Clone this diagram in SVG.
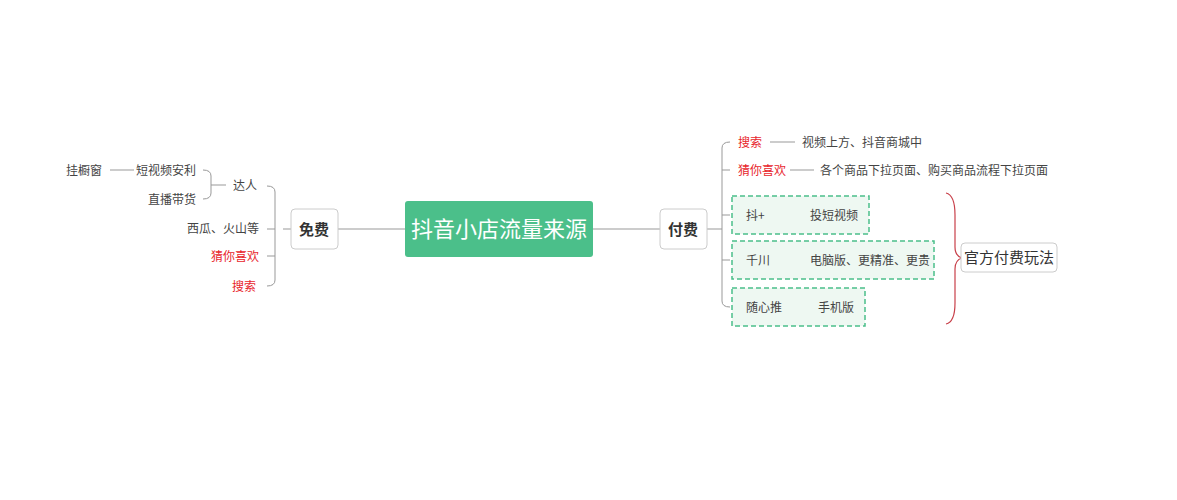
<svg xmlns="http://www.w3.org/2000/svg" width="1177" height="500" viewBox="0 0 1177 500">
<style>
text{font-family:"Noto Sans CJK SC","Liberation Sans",sans-serif;font-size:12px;fill:#444}
.r{fill:#e8262c}
.b{font-size:15px;font-weight:bold;fill:#333}
.ln{fill:none;stroke:#999;stroke-width:1}
.box{fill:#fff;stroke:#ccc;stroke-width:1}
.dash{fill:#eef8f2;stroke:#4bbf8a;stroke-width:1.5;stroke-dasharray:5 3}
</style>
<rect width="1177" height="500" fill="#fff"/>
<g id="connectors">
<path class="ln" d="M338 229H405M593 229H660"/>
<path class="ln" d="M291 229H283M267 186Q275 186 275 192V280Q275 286 267 286M275 229H267M275 256H267"/>
<path class="ln" d="M203 170Q211 170 211 176V193Q211 199 203 199M211 185H226"/>
<path class="ln" d="M110 170H134M770 142H795M790 170H814M780 215H803M780 260H803M789 307H812"/>
<path class="ln" d="M707 229H722M730 142Q722 142 722 148V301Q722 307 730 307M722 170H730M722 215H730M722 260H730"/>
<path d="M946 193Q955 195 955 215V247Q955 256 962 258Q955 260 955 269V303Q955 322 946 324" fill="none" stroke="#c8404a" stroke-width="1.2"/>
</g>
<g id="root"><rect x="405" y="201" width="188" height="56" rx="3" fill="#4bbf8a"/><text x="499" y="237" text-anchor="middle" style="font-size:22px;fill:#fff">抖音小店流量来源</text></g>
<g id="free"><rect class="box" x="291" y="209" width="47" height="40" rx="4"/><text class="b" x="314" y="235" text-anchor="middle">免费</text></g>
<g id="paid"><rect class="box" x="660" y="209" width="47" height="40" rx="4"/><text class="b" x="683" y="235" text-anchor="middle">付费</text></g>
<g id="daren"><text x="257" y="190" text-anchor="end">达人</text></g>
<g id="dv"><text x="196" y="175" text-anchor="end">短视频安利</text></g>
<g id="gcc"><text x="102" y="175" text-anchor="end">挂橱窗</text></g>
<g id="zb"><text x="196" y="204" text-anchor="end">直播带货</text></g>
<g id="xg"><text x="259" y="233" text-anchor="end">西瓜、火山等</text></g>
<g id="cnxh1"><text class="r" x="259" y="261" text-anchor="end">猜你喜欢</text></g>
<g id="ss1"><text class="r" x="256" y="291" text-anchor="end">搜索</text></g>
<g id="ss2"><text class="r" x="738" y="147">搜索</text><text x="802" y="147">视频上方、抖音商城中</text></g>
<g id="cnxh2"><text class="r" x="738" y="175">猜你喜欢</text><text x="820" y="175">各个商品下拉页面、购买商品流程下拉页面</text></g>
<g id="dou"><rect class="dash" x="732" y="196" width="137" height="38"/><text x="746" y="220">抖+</text><text x="810" y="220">投短视频</text></g>
<g id="qc"><rect class="dash" x="732" y="241" width="202" height="38"/><text x="746" y="265">千川</text><text x="810" y="265">电脑版、更精准、更贵</text></g>
<g id="sxt"><rect class="dash" x="732" y="288" width="133" height="38"/><text x="746" y="312">随心推</text><text x="818" y="312">手机版</text></g>
<g id="gf"><rect class="box" x="961" y="243" width="96" height="29" rx="4"/><text x="1009" y="263" text-anchor="middle" style="font-size:15px;fill:#333">官方付费玩法</text></g>
</svg>
